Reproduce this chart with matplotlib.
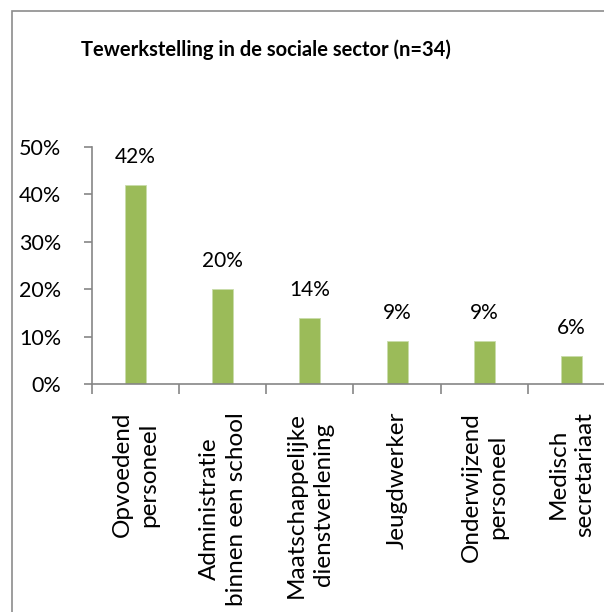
import matplotlib.pyplot as plt
from matplotlib.patches import Rectangle
from matplotlib.ticker import FuncFormatter, FixedLocator

categories = ["Opvoedend\npersoneel", "Administratie\nbinnen een school",
              "Maatschappelijke\ndienstverlening", "Jeugdwerker",
              "Onderwijzend\npersoneel", "Medisch\nsecretariaat"]
values = [0.42, 0.20, 0.14, 0.09, 0.09, 0.06]
labels = ["42%", "20%", "14%", "9%", "9%", "6%"]
yticks = [0, 0.1, 0.2, 0.3, 0.4, 0.5]

plt.rcParams['font.family'] = ['Lato', 'DejaVu Sans']

W, H = 604, 612
fig = plt.figure(figsize=(W / 100, H / 100), dpi=100)

# chart frame (cropped on right and bottom in the original)
fig.patches.append(Rectangle((12 / W, -0.1), 1.2, 1 - 11 / H + 0.1,
                             transform=fig.transFigure, fill=False,
                             edgecolor="#8c8c8c", linewidth=1.2))

ax = fig.add_axes([92 / W, 1 - 384 / H, 523 / W, 237 / H])
x = range(len(values))
ax.bar(x, values, width=0.24, color="#9bbb59", edgecolor="#c9dcaa", linewidth=0.6)

for xi, v, t in zip(x, values, labels):
    ax.annotate(t, (xi, v), xytext=(0, 13), textcoords="offset points",
                ha="center", va="bottom", fontsize=15, color="black")

ax.set_xlim(-0.5, len(values) - 0.5)
ax.set_ylim(0, 0.5)
ax.set_yticks(yticks)
ax.yaxis.set_major_formatter(FuncFormatter(lambda v, p: f"{v * 100:.0f}%"))
ax.set_xticks(list(x))
ax.set_xticklabels(categories, rotation=90, ha="center", va="top",
                   multialignment="center", fontsize=17.5, linespacing=1.33)
ax.xaxis.set_minor_locator(FixedLocator([i - 0.5 for i in range(len(values) + 1)]))
ax.tick_params(axis="x", which="major", length=0, pad=20)
ax.tick_params(axis="x", which="minor", length=7, color="#868686", width=1.2)
ax.tick_params(axis="y", length=6, color="#868686", width=1.2, pad=16, labelsize=15.5)

for s in ("top", "right"):
    ax.spines[s].set_visible(False)
for s in ("left", "bottom"):
    ax.spines[s].set_color("#868686")
    ax.spines[s].set_linewidth(1.2)

fig.text(266 / W, 1 - 50 / H, "Tewerkstelling in de sociale sector (n=34)",
         ha="center", va="center", fontsize=14.5, fontweight="bold")

fig.savefig("out.png", dpi=100)
